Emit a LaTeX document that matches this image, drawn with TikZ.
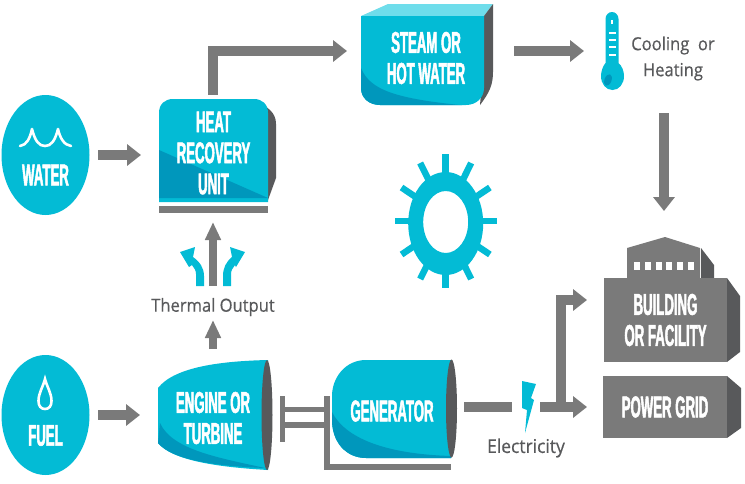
\documentclass[tikz,border=0pt]{standalone}
\usepackage{fontspec}
\usetikzlibrary{arrows.meta}
\setmainfont{Liberation Sans}
\newfontfamily\headfont[FakeStretch=0.44,FakeBold=1.6]{Liberation Sans Bold}
\newfontfamily\labelfont[FakeStretch=0.92,FakeBold=0.5]{Open Sans}
\definecolor{cy}{HTML}{03BBD5}
\definecolor{cyd}{HTML}{0097BC}
\definecolor{cyl}{HTML}{6FDDEB}
\definecolor{gr}{HTML}{7A7A7A}
\definecolor{grd}{HTML}{58595B}
\tikzset{
  x=1pt,y=-1pt,
  box/.style={inner sep=0pt,outer sep=0pt,align=center,text=white,font=\headfont\fontsize{30}{31}\selectfont},
  lab/.style={inner sep=0pt,outer sep=0pt,align=center,text=grd,font=\labelfont\fontsize{18}{26}\selectfont},
  flow/.style={draw=gr,line width=9.5pt,-{Triangle[length=14pt,width=21pt]}},
  slimflow/.style={draw=gr,line width=8pt,-{Triangle[length=18pt,width=15pt]}},
  plainflow/.style={draw=gr,line width=9.5pt},
  barline/.style={draw=gr,line width=5.5pt},
}
\begin{document}
\begin{tikzpicture}
\useasboundingbox (0,0) rectangle (745,483);
% circles
\fill[cy] (45.5,155) ellipse [x radius=44,y radius=60];
\fill[cy] (45.5,415) ellipse [x radius=44,y radius=60];
\draw[white,line width=2.6pt,line cap=round,line join=round] (20,146) .. controls (27,145) and (30,138) .. (32,129) .. controls (35,141) and (39,146) .. (45,146) .. controls (51,146) and (55,141) .. (58,129) .. controls (60,138) and (64,145) .. (71,146);
\draw[white,line width=2.6pt] (45,379) .. controls (43,387) and (38.5,393) .. (38.5,401) .. controls (38.5,406) and (41,409) .. (45,409) .. controls (49,409) and (51.5,406) .. (51.5,401) .. controls (51.5,393) and (47,387) .. (45,379) -- cycle;
% heat recovery unit
\fill[grd] (258,100) -- (270,110) .. controls (274,114) and (276,118) .. (276,124) -- (276,178) -- (268,200) -- cycle;
\fill[cy] (159,202) -- (159,113) .. controls (159,104) and (165,99) .. (173,99) -- (254,99) .. controls (262,99) and (268,104) .. (268,113) -- (268,202) -- cycle;
\fill[cyd] (159,150) -- (268,198) -- (159,198) -- cycle;
\fill[gr] (159,206) rectangle (268,213);
% steam
\fill[cyl] (361,16) -- (388,4) -- (493,4) -- (484,16) -- cycle;
\fill[grd] (484,16) -- (493,4) -- (493,72) .. controls (493,84) and (490,92) .. (480,105) -- (484,60) -- cycle;
\fill[cy] (361,16) -- (484,16) -- (484,88) .. controls (484,98) and (476,105) .. (466,105) -- (380,105) .. controls (369,105) and (361,98) .. (361,88) -- cycle;
\begin{scope}
\clip (361,16) -- (484,16) -- (484,88) .. controls (484,98) and (476,105) .. (466,105) -- (380,105) .. controls (369,105) and (361,98) .. (361,88) -- cycle;
\fill[cyd] (361,68) .. controls (370,90) and (395,99) .. (470,106) -- (361,110) -- cycle;
\end{scope}
% thermometer
\fill[cy] (612,12) .. controls (615.5,12) and (618.5,15) .. (618.5,19) -- (618.5,63) .. controls (622,66) and (624,71) .. (624,76) .. controls (624,84) and (619,90) .. (612.5,90) .. controls (606,90) and (601,84) .. (601,76) .. controls (601,71) and (603,66) .. (605.5,63) -- (605.5,19) .. controls (605.5,15) and (608.5,12) .. (612,12) -- cycle;
\fill[cyd,rotate around={-20:(608,80)}] (608,80) ellipse [x radius=3.5,y radius=6];
\fill[white] (610.5,20) rectangle (613,24);
\foreach \ty in {33,40,47,55}{\fill[white] (609,\ty-1) rectangle (615.5,\ty+1);}
% sun
\foreach \a in {0,30,...,330}{
  \draw[cy,line width=6.5pt] ({445.7+33*cos(\a)},{221+46*sin(\a)}) -- ({445.7+51*cos(\a)},{221+67*sin(\a)});
}
\fill[cy,even odd rule] (445.7,223.5) ellipse [x radius=37.5,y radius=51.5] (445.7,222) ellipse [x radius=22.5,y radius=31];
% building
\fill[grd] (701,248) -- (714,265) -- (714,278) -- (701,278) -- cycle;
\fill[gr] (627,278) -- (627,248) -- (665,237) -- (700,248) -- (700,278) -- cycle;
\fill[grd] (727,278) -- (740,296) -- (740,352) -- (727,362) -- cycle;
\fill[gr] (604,278) rectangle (727,362);
\foreach \sx in {634,645,655.5,666,677,687.5}{\fill[white] (\sx,262) rectangle (\sx+6,270);}
% grid
\fill[grd] (727,376) -- (741,388) -- (741,428) -- (727,438) -- cycle;
\fill[gr] (603,376) rectangle (727,438);
% engine
\fill[cy] (268,360) .. controls (225,361) and (175,366) .. (158,388) -- (158,443) .. controls (172,460) and (215,467) .. (268,470) -- cycle;
\fill[cyd] (160,423) .. controls (172,450) and (220,458) .. (265,468) .. controls (215,466) and (172,460) .. (158,443) -- cycle;
\fill[grd] (267,415) ellipse [x radius=5.5,y radius=55];
% generator
\fill[cy] (451,360) -- (366,360) .. controls (345,360) and (332,378) .. (332,396) -- (332,420) .. controls (332,442) and (346,458) .. (366,458) -- (451,458) -- cycle;
\begin{scope}
\clip (451,360) -- (366,360) .. controls (345,360) and (332,378) .. (332,396) -- (332,420) .. controls (332,442) and (346,458) .. (366,458) -- (451,458) -- cycle;
\fill[cyd] (332,412) .. controls (345,438) and (385,454) .. (451,456) -- (451,462) -- (325,462) -- cycle;
\end{scope}
\fill[grd] (451.5,408.5) ellipse [x radius=5.5,y radius=49];
% lightning
\fill[cy] (522,381) -- (536,384) -- (531,398) -- (534,400) -- (525,433) -- (527,410) -- (522,408) -- cycle;
% named nodes
\node[box] (water) at (45.5,175) {WATER};
\node[box] (fuel) at (45.5,435.5) {FUEL};
\node[box,minimum width=109pt,minimum height=103pt] (hru) at (213.5,153) {HEAT\\RECOVERY\\UNIT};
\node[box,minimum width=123pt,minimum height=89pt] (steam) at (426,58) {STEAM OR\\HOT WATER};
\node[box,minimum width=110pt,minimum height=110pt] (engine) at (213,418) {ENGINE OR\\TURBINE};
\node[box,minimum width=120pt,minimum height=98pt] (gen) at (392,411) {GENERATOR};
\node[box,minimum width=123pt,minimum height=84pt] (bld) at (665.5,320) {BUILDING\\OR FACILITY};
\node[box,minimum width=124pt,minimum height=62pt] (grid) at (665,407) {POWER GRID};
\node[inner sep=0pt,minimum width=14pt,minimum height=20pt] (bolt) at (527,407) {};
\node[lab] (therm) at (213,307) {Thermal Output};
\node[lab] (cool) at (673,58.5) {Cooling\ \ or\\Heating};
\node[lab,font=\labelfont\fontsize{19}{26}\selectfont] (elec) at (526,448) {Electricity};
\coordinate (waterout) at (89.5,155);
\coordinate (fuelout) at (89.5,415);
\coordinate (steamin) at (361,51);
\coordinate (steamout) at (484,51);
\coordinate (coolin) at (601,51);
\coordinate (bldin) at (604,300);
\coordinate (elbow) at (561,407);
\coordinate (coolbot) at (664,92);
\coordinate (splitbot) at (213,286);
\coordinate (hrubar) at (213,213);
\coordinate (engtop) at (213,360);
\coordinate (thermtop) at (213,320);
% arrows
\draw[flow,shorten <=8.5pt,shorten >=18pt] (waterout) -- (hru.west |- waterout);
\draw[flow,shorten <=8.5pt,shorten >=18pt] (fuelout) -- (engine.west |- fuelout);
\draw[flow,shorten <=7pt,shorten >=14pt] (hru.north -| splitbot) |- (steamin);
\draw[flow,shorten <=30pt,shorten >=17pt] (steamout) -- (coolin);
\draw[flow,shorten <=21pt,shorten >=67pt] (coolbot) -- (bld.north -| coolbot);
\draw[slimflow,shorten <=11pt] (engtop) -- (thermtop);
\draw[slimflow,shorten >=9pt] (splitbot) -- (hrubar);
\draw[plainflow,shorten <=12pt,shorten >=8pt] (gen.east |- bolt.west) -- (bolt.west);
\draw[flow,shorten <=6pt,shorten >=16pt] (bolt.east) -- (grid.west);
\draw[flow,shorten >=17pt] (elbow) |- (bldin);
% thermal split arrows
\fill[cy] (196,286) -- (196,274) .. controls (196,270) and (194,268) .. (192,265) -- (189,267) -- (180,252) -- (195,247) -- (193,257) .. controls (200,262) and (204,268) .. (204,276) -- (204,286) -- cycle;
\fill[cy] (231,286) -- (231,274) .. controls (231,270) and (233,268) .. (235,265) -- (236,267) -- (245,252) -- (230,247) -- (232,257) .. controls (226,262) and (223,268) .. (223,276) -- (223,286) -- cycle;
% couplings
\coordinate (ca) at (282.5,396);
\coordinate (cb) at (282.5,442);
\coordinate (cc) at (327,396);
\coordinate (cd) at (327,467);
\coordinate (ce) at (451,467);
\draw[barline] (ca) -- (cb);
\draw[barline] (cc) -- (cd) -- (ce);
\draw[barline] (282.5,409.5) -- (327,409.5);
\draw[barline] (282.5,425) -- (327,425);
\end{tikzpicture}
\end{document}
